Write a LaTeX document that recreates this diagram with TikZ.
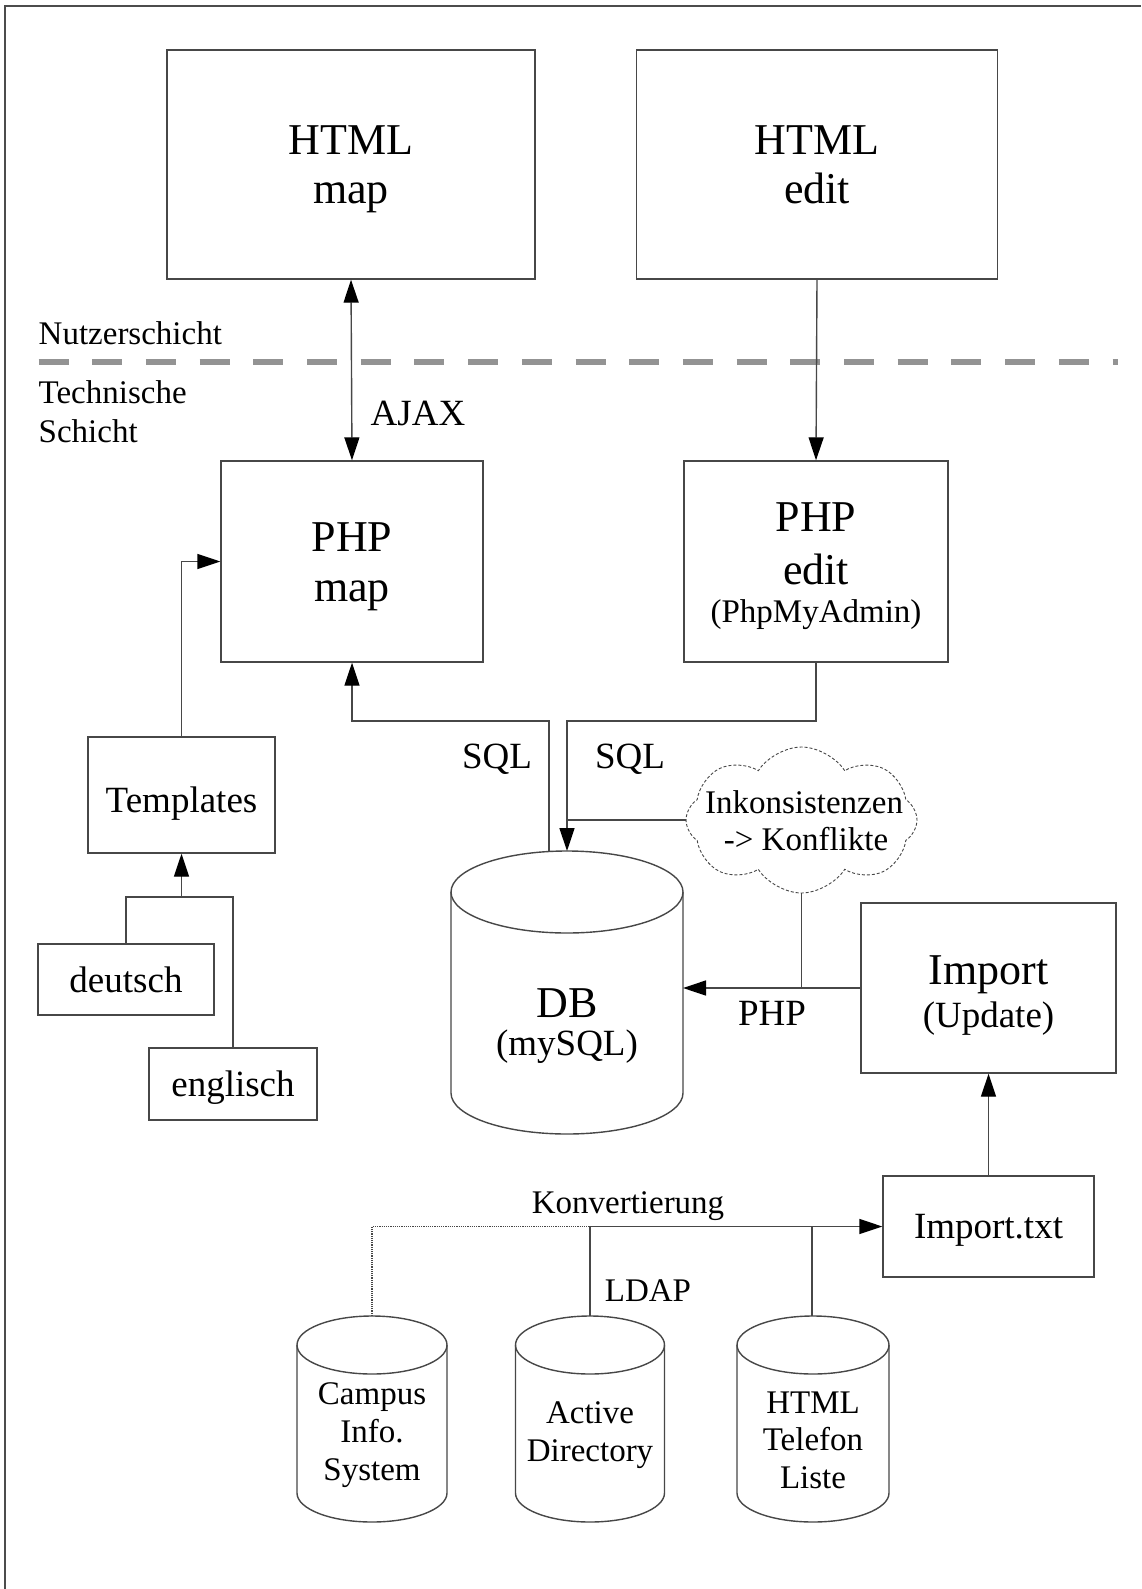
\documentclass[tikz,border=0pt]{standalone}
\usepackage{fontspec}
\setmainfont{Liberation Serif}
\usetikzlibrary{arrows.meta,shapes.symbols}
\definecolor{ln}{gray}{0.28}
\newcommand\szL{\fontsize{44}{49}\selectfont}
\newcommand\szM{\fontsize{37}{42}\selectfont}
\newcommand\szS{\fontsize{33}{38}\selectfont}
% cx, rx, top, ry, side end
\newcommand\cylshape[5]{%
  \draw[conn] (#1,#3+#4) ellipse [x radius=#2pt, y radius=#4pt];
  \draw[conn] (#1-#2,#3+#4) -- (#1-#2,#5)
     arc[start angle=180, end angle=360, x radius=#2pt, y radius=#4pt]
     -- (#1+#2,#3+#4);
}
\begin{document}
\begin{tikzpicture}[x=1pt,y=-1pt,
  conn/.style={draw=ln, line width=1.4pt},
  box/.style={rectangle, draw=ln, line width=1.4pt, inner sep=0pt},
  tipk/.tip={Triangle[length=23pt,width=15pt,color=black]},
  arr/.style={conn, -tipk},
  dblarr/.style={conn, tipk-tipk},
  txt/.style={anchor=base, inner sep=0pt, text=black},
  txtL/.style={txt, font=\szL},
  txtM/.style={txt, font=\szM},
  txtS/.style={txt, font=\szS},
]
\useasboundingbox (0,0) rectangle (1141,1589);
% frame
\draw[line width=2pt, draw=gray!60!black] (5,1589) -- (5,6) -- (1141,6);

% layer separator
\coordinate (sepL) at (38.5,362);
\coordinate (sepR) at (1118,362);
\draw[draw=gray!85, line width=6pt, dash pattern=on 30pt off 23.7pt] (sepL) -- (sepR);
\node[txtS, anchor=base west] (nutzer) at (38.5,344.5) {Nutzerschicht};
\node[txtS, anchor=base west] (tech1) at (38.5,403) {Technische};
\node[txtS, anchor=base west] (tech2) at (38.5,442) {Schicht};

% boxes
\node[box, minimum width=368pt, minimum height=229pt] (htmlmap) at (351,164.5) {};
\node[box, minimum width=361pt, minimum height=229pt] (htmledit) at (817,164.5) {};
\node[box, minimum width=262pt, minimum height=201pt] (phpmap) at (352,561.5) {};
\node[box, minimum width=264pt, minimum height=201pt] (phpedit) at (816,561.5) {};
\node[box, minimum width=187pt, minimum height=116pt] (templates) at (181.5,795) {};
\node[box, minimum width=176pt, minimum height=71pt] (deutsch) at (126,979.5) {};
\node[box, minimum width=168pt, minimum height=72pt] (englisch) at (233,1084) {};
\node[box, minimum width=255pt, minimum height=170pt] (import) at (988.5,988) {};
\node[box, minimum width=211pt, minimum height=101pt] (importtxt) at (988.5,1226.5) {};

% box texts
\node[txtL] (t-hm1) at (351,155) {HTML};
\node[txtL] (t-hm2) at (351,204) {map};
\node[txtL] (t-he1) at (817,155) {HTML};
\node[txtL] (t-he2) at (817,204) {edit};
\node[txtL] (t-pm1) at (352,551) {PHP};
\node[txtL] (t-pm2) at (352,601) {map};
\node[txtL] (t-pe1) at (816,531) {PHP};
\node[txtL] (t-pe2) at (816,584) {edit};
\node[txtS] (t-pe3) at (816,622) {(PhpMyAdmin)};
\node[txtM] (t-tpl) at (181.5,812) {Templates};
\node[txtM] (t-de) at (126,992) {deutsch};
\node[txtM] (t-en) at (233,1096) {englisch};
\node[txtL] (t-imp1) at (988.5,984) {Import};
\node[txtM] (t-imp2) at (988.5,1027) {(Update)};
\node[txtM] (t-imptxt) at (988.5,1238) {Import.txt};

% database cylinder
\cylshape{567}{116}{851}{41}{1093}
\node[txtL] (t-db1) at (567,1017) {DB};
\node[txtM] (t-db2) at (567,1055) {(mySQL)};
\coordinate (dbA) at (549,851.5);
\coordinate (dbB) at (567,851);
\coordinate (dbR) at (683,988);

% source cylinders
\cylshape{372}{75}{1316}{29}{1493}
\cylshape{590}{74.5}{1316}{29}{1493}
\cylshape{813}{76}{1316}{29}{1493}
\node[txtS] (t-c1) at (372,1404) {Campus};
\node[txtS] (t-c2) at (372,1442) {Info.};
\node[txtS] (t-c3) at (372,1480) {System};
\node[txtS] (t-a1) at (590,1423) {Active};
\node[txtS] (t-a2) at (590,1461) {Directory};
\node[txtS] (t-h1) at (813,1413) {HTML};
\node[txtS] (t-h2) at (813,1450) {Telefon};
\node[txtS] (t-h3) at (813,1488) {Liste};
\coordinate (campusTop) at (372,1316);
\coordinate (adTop) at (590,1316);
\coordinate (telTop) at (812,1316);

% cloud
\node[cloud, draw=ln, dash pattern=on 3pt off 2pt, line width=0.9pt, cloud puffs=8, cloud puff arc=115,
      cloud ignores aspect, minimum width=231pt, minimum height=146pt, inner sep=0pt] (cloud) at (801.5,820) {};
\node[txtS] (t-cl1) at (804,813) {Inkonsistenzen};
\node[txtS] (t-cl2) at (806,850) {-> Konflikte};

% connectors
\draw[dblarr] (htmlmap.south) -- (phpmap.north);
\node[txtM] (ajax) at (418,425) {AJAX};
\draw[arr] (htmledit.south) -- (phpedit.north);

\draw[arr] (templates.north) |- (phpmap.west);
\coordinate (jT) at (181.5,897);
\draw[conn] (deutsch.north) |- (jT);
\draw[conn] (englisch.north) |- (jT);
\draw[arr] (jT) -- (templates.south);

\coordinate (sqlL) at (549,721);
\coordinate (sqlR) at (567,721);
\draw[arr] (dbA) -- (sqlL) -| (phpmap.south);
\draw[arr] (phpedit.south) |- (sqlR) -- (dbB);
\node[txtM] (sql1) at (497,768) {SQL};
\node[txtM] (sql2) at (630,768) {SQL};
\draw[conn] (cloud.west) -- (cloud.west -| dbB);

\draw[arr] (import.west) -- (dbR);
\draw[conn] (cloud.south) -- (cloud.south |- import.west);
\node[txtM] (phplbl) at (772,1025) {PHP};

\draw[arr] (importtxt.north) -- (import.south);

\coordinate (kC) at (372,1226.5);
\coordinate (kA) at (590,1226.5);
\coordinate (kT) at (812,1226.5);
\draw[draw=ln, line width=1.2pt, densely dotted] (campusTop) -- (kC) -- (kA);
\draw[conn] (adTop) -- (kA);
\draw[conn] (telTop) -- (kT);
\draw[arr] (kA) -- (importtxt.west);
\node[txtS] (konv) at (628,1213) {Konvertierung};
\node[txtS] (ldap) at (648,1301) {LDAP};
\end{tikzpicture}
\end{document}
